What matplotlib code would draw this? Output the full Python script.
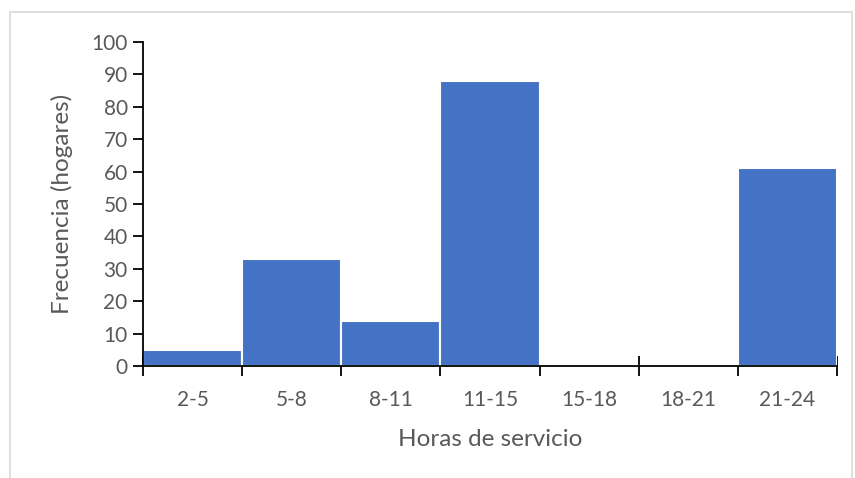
import numpy as np
import matplotlib.pyplot as plt
from matplotlib.patches import Rectangle

bins = ["2-5", "5-8", "8-11", "11-15", "15-18", "18-21", "21-24"]
freq = [5, 33, 14, 88, 0, 0, 61]

plt.rcParams['font.family'] = ['Lato', 'DejaVu Sans']
text_color = '#595959'

fig = plt.figure(figsize=(8.55, 4.78), dpi=100)
ax = fig.add_axes([143 / 855, 1 - 366 / 478, 694 / 855, 324 / 478])

x = np.arange(len(bins))
ax.bar(x, freq, width=1.0, align='edge', color='#4472C4',
       edgecolor='white', linewidth=1.5, zorder=2)

ax.set_xlim(0, len(bins))
ax.set_ylim(0, 100)
ax.set_yticks(np.arange(0, 101, 10))
ax.set_xticks(np.arange(len(bins) + 1))
ax.set_xticklabels([])
ax.set_xticks(x + 0.5, minor=True)
ax.set_xticklabels(bins, minor=True)
ax.tick_params(axis='x', which='minor', length=0, pad=17,
               labelsize=15, labelcolor=text_color)
ax.tick_params(axis='x', which='major', direction='inout', length=14, width=1.3, color='black')
ax.tick_params(axis='y', direction='out', length=7, width=1.3, color='black',
               labelsize=15, labelcolor=text_color, pad=4)

for s in ['top', 'right']:
    ax.spines[s].set_visible(False)
ax.spines['left'].set_linewidth(1.3)
ax.spines['bottom'].set_linewidth(1.3)
ax.spines['bottom'].set_zorder(3)

ax.set_xlabel('Horas de servicio', fontsize=17.5, color=text_color, labelpad=14)
ax.set_ylabel('Frecuencia (hogares)', fontsize=17.5, color=text_color, labelpad=13)

fig.patches.append(Rectangle((10 / 855, -0.05), 842 / 855, 1 - 12 / 478 + 0.05,
                             transform=fig.transFigure, fill=False,
                             edgecolor='#d9d9d9', linewidth=1.2))

fig.savefig('out.png', dpi=100)
